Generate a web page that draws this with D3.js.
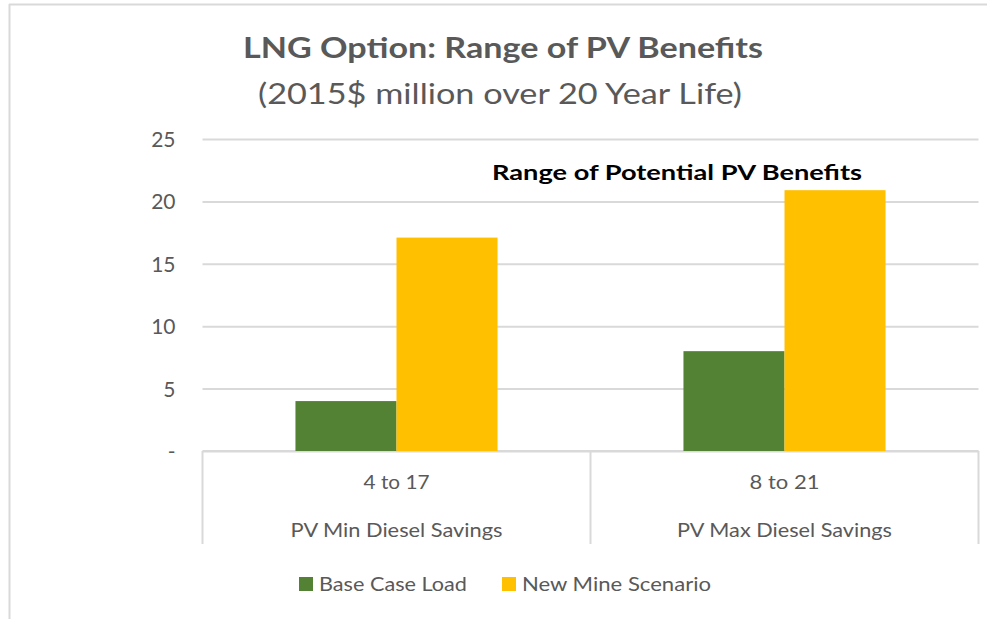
<!DOCTYPE html>
<html>
<head>
<meta charset="utf-8">
<script src="https://cdn.jsdelivr.net/npm/d3@7"></script>
<style>
  html, body { margin: 0; padding: 0; background: #fff; }
  svg { display: block; font-family: Lato, "Open Sans", sans-serif; }
</style>
</head>
<body>
<svg id="chart" width="987" height="619"></svg>
<script>
const categories = ["PV Min Diesel Savings", "PV Max Diesel Savings"];
const rangeLabels = ["4 to 17", "8 to 21"];
const seriesNames = ["Base Case Load", "New Mine Scenario"];
const baseCaseLoad = [4, 8];
const newMineScenario = [17.1, 20.9];
const yTicks = [0, 5, 10, 15, 20, 25];
const yTickLabels = ["-", "5", "10", "15", "20", "25"];
const colors = ["#548235", "#FFC000"];

(function () {
const svg = d3.select("#chart");
const W = 987, H = 619;

// outer frame (top and left visible)
svg.append("line").attr("x1", 9).attr("x2", W).attr("y1", 4.5).attr("y2", 4.5)
  .attr("stroke", "#d9d9d9").attr("stroke-width", 2);
svg.append("line").attr("x1", 9.5).attr("x2", 9.5).attr("y1", 4).attr("y2", H)
  .attr("stroke", "#d9d9d9").attr("stroke-width", 2);

const mLeft = 202.5, mRight = 978.5, mTop = 139, mBottom = 451;
const y = d3.scaleLinear().domain([0, 25]).range([mBottom, mTop]);
const x0 = d3.scaleBand().domain(categories).range([mLeft, mRight]).paddingInner(0).paddingOuter(0);
const x1 = d3.scaleBand().domain(seriesNames).range([0, x0.bandwidth()]).paddingInner(0).paddingOuter(0.92);

const fit = (sel, w) => sel.attr("textLength", w).attr("lengthAdjust", "spacingAndGlyphs");

// gridlines via axis
const yAxis = d3.axisLeft(y).tickValues(yTicks).tickSize(-(mRight - mLeft)).tickFormat((d, i) => yTickLabels[i]);
const gy = svg.append("g").attr("transform", `translate(${mLeft},0)`).call(yAxis);
gy.select(".domain").remove();
gy.selectAll(".tick line").attr("stroke", "#d9d9d9").attr("stroke-width", 2);
gy.selectAll(".tick text").attr("x", -27).attr("fill", "#595959")
  .style("font-size", "21px").style("font-family", "Lato, sans-serif")
  .attr("dy", "0.36em").attr("text-anchor", "end");

// category axis box
const boxBottom = 544;
const gx = svg.append("g");
gx.append("line").attr("x1", mLeft).attr("x2", mRight).attr("y1", mBottom).attr("y2", mBottom)
  .attr("stroke", "#d9d9d9").attr("stroke-width", 2);
const dividers = [mLeft].concat(categories.map(c => x0(c) + x0.bandwidth()));
gx.selectAll("line.div").data(dividers).join("line").attr("class", "div")
  .attr("x1", d => d).attr("x2", d => d).attr("y1", mBottom).attr("y2", boxBottom)
  .attr("stroke", "#d9d9d9").attr("stroke-width", 2);

// bars
const data = categories.map((c, i) => ({ cat: c, vals: [baseCaseLoad[i], newMineScenario[i]] }));
const groups = svg.append("g").selectAll("g").data(data).join("g")
  .attr("transform", d => `translate(${x0(d.cat)},0)`);
groups.selectAll("rect").data(d => d.vals.map((v, j) => ({ v, j }))).join("rect")
  .attr("x", d => x1(seriesNames[d.j]))
  .attr("width", x1.bandwidth())
  .attr("y", d => y(d.v))
  .attr("height", d => y(0) - y(d.v))
  .attr("fill", d => colors[d.j]);

// category labels
const rangeW = [66, 70];
const catW = [212, 215];
categories.forEach((c, i) => {
  const cx = x0(c) + x0.bandwidth() / 2;
  fit(svg.append("text").attr("x", cx).attr("y", 489).attr("text-anchor", "middle")
    .attr("fill", "#595959").style("font-size", "20px").text(rangeLabels[i]), rangeW[i]);
  fit(svg.append("text").attr("x", cx).attr("y", 537).attr("text-anchor", "middle")
    .attr("fill", "#595959").style("font-size", "20px").text(c), catW[i]);
});

// titles
fit(svg.append("text").attr("x", 503).attr("y", 58).attr("text-anchor", "middle")
  .attr("fill", "#595959").style("font-size", "28px").style("font-weight", "bold")
  .text("LNG Option: Range of PV Benefits"), 520);
fit(svg.append("text").attr("x", 500).attr("y", 104).attr("text-anchor", "middle")
  .attr("fill", "#595959").style("font-size", "28px")
  .text("(2015$ million over 20 Year Life)"), 484);

// annotation
fit(svg.append("text").attr("x", 492).attr("y", 180)
  .attr("fill", "#000").style("font-size", "21px").style("font-weight", "bold")
  .text("Range of Potential PV Benefits"), 370);

// legend
const legendX = [299, 502];
const legendW = [148, 189];
seriesNames.forEach((s, i) => {
  svg.append("rect").attr("x", legendX[i]).attr("y", 577).attr("width", 14).attr("height", 14)
    .attr("fill", colors[i]);
  fit(svg.append("text").attr("x", legendX[i] + 20).attr("y", 591)
    .attr("fill", "#595959").style("font-size", "20px").text(s), legendW[i]);
});
})();
</script>
</body>
</html>
